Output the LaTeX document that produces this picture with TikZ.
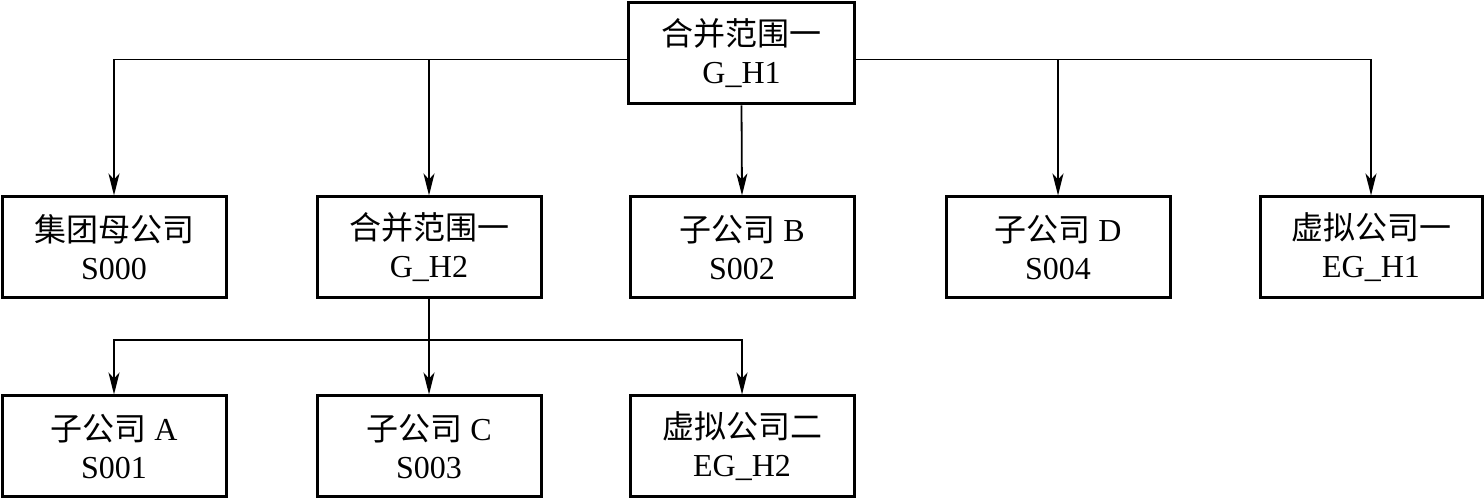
\documentclass[tikz,border=0pt]{standalone}
\usepackage{fontspec}
\setmainfont{Liberation Serif}
\newfontfamily\cjk{Noto Sans CJK SC}
\usetikzlibrary{arrows.meta,positioning}

\tikzset{
  unitbox/.style={draw, line width=1.5pt, minimum width=112pt, minimum height=50.5pt,
                  align=center, font=\fontsize{16}{19}\selectfont, inner sep=2pt},
  link/.style={line width=0.9pt, -{Stealth[length=11pt, width=5.5pt, inset=3pt]}},
  bar/.style={line width=0.9pt}
}

\begin{document}
\begin{tikzpicture}[x=0.5pt, y=-0.5pt]
    \useasboundingbox (0,0) rectangle (1484,501);
    % top level
    \node[unitbox, minimum width=113pt] (gh1) at (741.5,53.5) {{\cjk 合并范围一}\\G\_H1};
    % second level
    \node[unitbox] (s000) at (114,247.5)  {{\cjk 集团母公司}\\S000};
    \node[unitbox] (gh2)  at (429,247.5)  {{\cjk 合并范围一}\\G\_H2};
    \node[unitbox] (s002) at (742,247.5)  {{\cjk 子公司} B\\S002};
    \node[unitbox] (s004) at (1058,247.5) {{\cjk 子公司} D\\S004};
    \node[unitbox, minimum width=111pt] (egh1) at (1371,247.5) {{\cjk 虚拟公司一}\\EG\_H1};
    % third level
    \node[unitbox] (s001) at (114,446.5)  {{\cjk 子公司} A\\S001};
    \node[unitbox] (s003) at (429,446.5)  {{\cjk 子公司} C\\S003};
    \node[unitbox] (egh2) at (742,446.5)  {{\cjk 虚拟公司二}\\EG\_H2};
    % links from the top box
    \coordinate (lft) at ([yshift=-3pt]gh1.west);
    \coordinate (rgt) at ([yshift=-3pt]gh1.east);
    \draw[link] (lft) -| (s000.north);
    \draw[link] (lft) -| (gh2.north);
    \draw[link] (gh1.south) -- (s002.north);
    \draw[link] (rgt) -| (s004.north);
    \draw[link] (rgt) -| (egh1.north);
    % links from G_H2
    \coordinate (bus) at (429,340);
    \draw[bar] (gh2.south) -- (bus);
    \draw[link] (bus) -| (s001.north);
    \draw[link] (bus) -- (s003.north);
    \draw[link] (bus) -| (egh2.north);
\end{tikzpicture}
\end{document}
